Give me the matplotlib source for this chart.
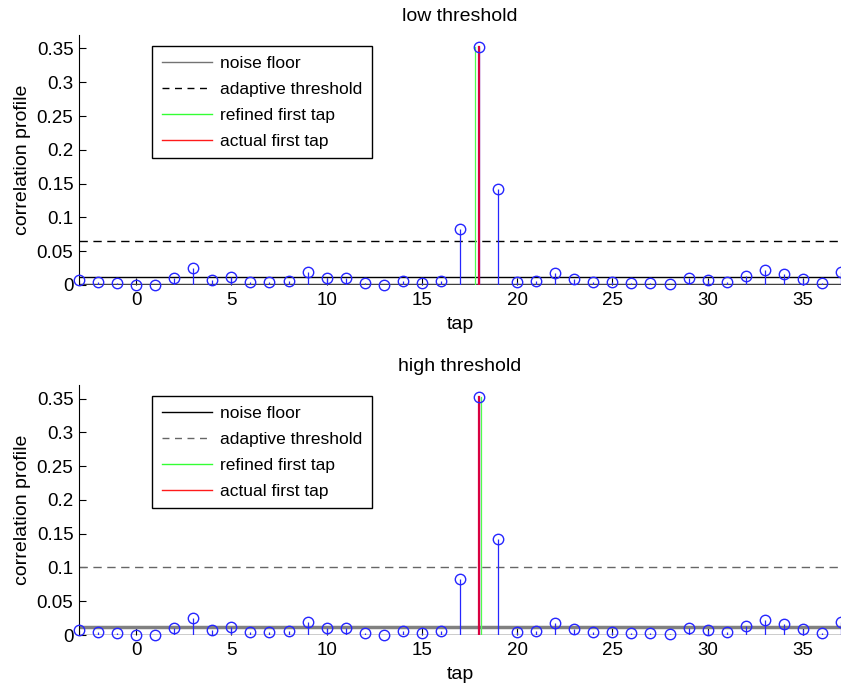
import matplotlib
matplotlib.use("Agg")
import matplotlib.pyplot as plt
import numpy as np
from matplotlib.lines import Line2D

plt.rcParams['font.family'] = ['Liberation Sans', 'DejaVu Sans']

# tap index and correlation profile values (same for both panels)
taps = np.arange(-3, 38)
profile = [0.0074, 0.0050, 0.0025, 0.0000, 0.0000, 0.0108, 0.0255, 0.0074,
           0.0123, 0.0040, 0.0050, 0.0064, 0.0196, 0.0098, 0.0098, 0.0030,
           0.0000, 0.0064, 0.0030, 0.0064, 0.0828, 0.3520, 0.1417, 0.0040,
           0.0064, 0.0172, 0.0093, 0.0040, 0.0050, 0.0025, 0.0025, 0.0015,
           0.0103, 0.0069, 0.0040, 0.0137, 0.0225, 0.0157, 0.0083, 0.0025,
           0.0186]

titles = ['low threshold', 'high threshold']
noise_floor = [0.0115, 0.012]
thresholds = [0.065, 0.1]
refined_tap = [17.78, 18.1]
actual_tap = [18, 18]
peak = 0.352

labels = ['noise floor', 'adaptive threshold', 'refined first tap', 'actual first tap']

fig = plt.figure(figsize=(8.41, 6.88), dpi=100)
ax_top = fig.add_axes([0.0939, 0.5858, 0.9061, 0.3634])
ax_bot = fig.add_axes([0.0939, 0.0770, 0.9061, 0.3634])

# odd rendering: line greys swap between panels, mimic that
styles = [
    dict(noise_c='k', noise_lw=1.0, base_c='0.25', base_lw=2.5, thr_c='k', leg_noise='0.45', leg_thr='k'),
    dict(noise_c='0.5', noise_lw=2.5, base_c='k', base_lw=1.0, thr_c='0.4', leg_noise='k', leg_thr='0.4'),
]

for i, ax in enumerate([ax_top, ax_bot]):
    st = styles[i]
    ax.axhline(0, color=st['base_c'], lw=st['base_lw'], zorder=2)
    ax.axhline(noise_floor[i], color=st['noise_c'], lw=st['noise_lw'], zorder=2)
    ax.axhline(thresholds[i], color=st['thr_c'], lw=1.0, ls=(0, (6, 4)), zorder=2)
    ml, sl, bl = ax.stem(taps, profile, linefmt='b-', markerfmt='bo', basefmt=' ')
    plt.setp(sl, lw=0.9, color=(0.15, 0.15, 1.0))
    plt.setp(ml, markersize=7.5, markerfacecolor='none', markeredgecolor=(0.15, 0.15, 1.0),
             markeredgewidth=1.0, clip_on=False, zorder=4)
    ax.plot([refined_tap[i]] * 2, [0, peak], color=(0.3, 1.0, 0.3), lw=0.9, zorder=3)
    ax.plot([actual_tap[i]] * 2, [0, peak], color=(0.85, 0.0, 0.25), lw=1.6, zorder=3)

    ax.set_xlim(-3, 37)
    ax.set_ylim(0, 0.37)
    ax.set_xticks(np.arange(0, 36, 5))
    ax.set_yticks(np.arange(0, 0.351, 0.05))
    ax.set_yticklabels(['0', '0.05', '0.1', '0.15', '0.2', '0.25', '0.3', '0.35'])
    ax.tick_params(direction='in', length=5, width=0.8, labelsize=13.5, pad=4)
    ax.tick_params(axis='x', pad=5)
    for s in ['top', 'right']:
        ax.spines[s].set_visible(False)
    ax.spines['bottom'].set_visible(False)
    ax.spines['left'].set_linewidth(0.8)
    ax.set_xlabel('tap', fontsize=14, labelpad=5)
    ax.set_ylabel('correlation profile', fontsize=14, labelpad=4)
    ax.set_title(titles[i], fontsize=14, pad=10)

    handles = [Line2D([], [], color=st['leg_noise'], lw=1.0),
               Line2D([], [], color=st['leg_thr'], lw=1.0, ls=(0, (5, 4))),
               Line2D([], [], color=(0.2, 1.0, 0.2), lw=1.0),
               Line2D([], [], color=(1.0, 0.1, 0.1), lw=1.0)]
    leg = ax.legend(handles, labels, loc='upper left', bbox_to_anchor=(0.096, 0.955),
                    borderaxespad=0, fontsize=12.5, handlelength=2.9, handletextpad=0.45,
                    labelspacing=0.62, borderpad=0.55, fancybox=False, framealpha=1)
    leg.get_frame().set_edgecolor('k')
    leg.get_frame().set_linewidth(1.0)

fig.savefig('out.png', dpi=100)
